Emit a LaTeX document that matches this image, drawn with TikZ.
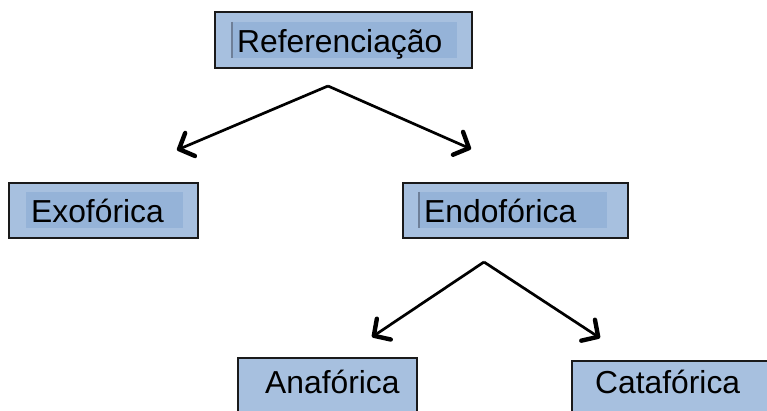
\documentclass[tikz,border=0pt]{standalone}
\usepackage{fontspec}
\setmainfont{Liberation Sans}
\usetikzlibrary{arrows.meta}
\definecolor{boxfill}{HTML}{A7C0DF}
\definecolor{innerfill}{HTML}{95B3D8}
\definecolor{inneredge}{HTML}{6E7F98}
\definecolor{borderc}{HTML}{1A1A1A}
\tikzset{
  outerbox/.style={draw=borderc, line width=1.3pt, fill=boxfill, rectangle, inner sep=0pt},
  innerbox/.style={fill=innerfill, rectangle, inner sep=0pt},
  lbl/.style={anchor=base west, inner sep=0pt, font=\fontsize{31.8}{32}\selectfont},
  conn/.style={line width=2.7pt, -{Straight Barb[length=12pt,width=25pt,line width=4.4pt,round]}}
}
\begin{document}
\begin{tikzpicture}[x=1pt,y=-1pt]
\useasboundingbox (0,0) rectangle (767,410);
\clip (0,0) rectangle (767,410);
% Referenciacao
\node[outerbox, minimum width=257pt, minimum height=56pt] (ref) at (343.5,40) {};
\node[innerbox, minimum width=225pt, minimum height=36pt] (refin) at (344.5,40) {};
\draw[inneredge, line width=1.8pt] (refin.north west) -- (refin.south west);
\node[lbl] (reft) at (237,52) {Referenciação};
% Exoforica
\node[outerbox, minimum width=189pt, minimum height=55pt] (exo) at (103.5,210.5) {};
\node[innerbox, minimum width=157pt, minimum height=36pt] (exoin) at (104.5,210) {};
\node[lbl] (exot) at (31,222) {Exofórica};
% Endoforica
\node[outerbox, minimum width=225pt, minimum height=55pt] (endo) at (515.5,210.5) {};
\node[innerbox, minimum width=188pt, minimum height=36pt] (endoin) at (513,210) {};
\draw[inneredge, line width=1.8pt] (endoin.north west) -- (endoin.south west);
\node[lbl] (endot) at (424,222) {Endofórica};
% Anaforica
\node[outerbox, minimum width=179pt, minimum height=55pt] (ana) at (327.5,385.5) {};
\node[lbl] (anat) at (265,393) {Anafórica};
% Cataforica
\node[outerbox, minimum width=218pt, minimum height=55pt] (cata) at (681,388.5) {};
\node[lbl] (catat) at (595,393) {Catafórica};
% connectors
\coordinate (a1) at (328,86);
\coordinate (t1) at (177,150);
\coordinate (t2) at (471,149);
\coordinate (a2) at (484,262);
\coordinate (t3) at (372,337);
\coordinate (t4) at (600,338);
\draw[conn] (a1) -- (t1);
\draw[conn] (a1) -- (t2);
\draw[conn] (a2) -- (t3);
\draw[conn] (a2) -- (t4);
\end{tikzpicture}
\end{document}
